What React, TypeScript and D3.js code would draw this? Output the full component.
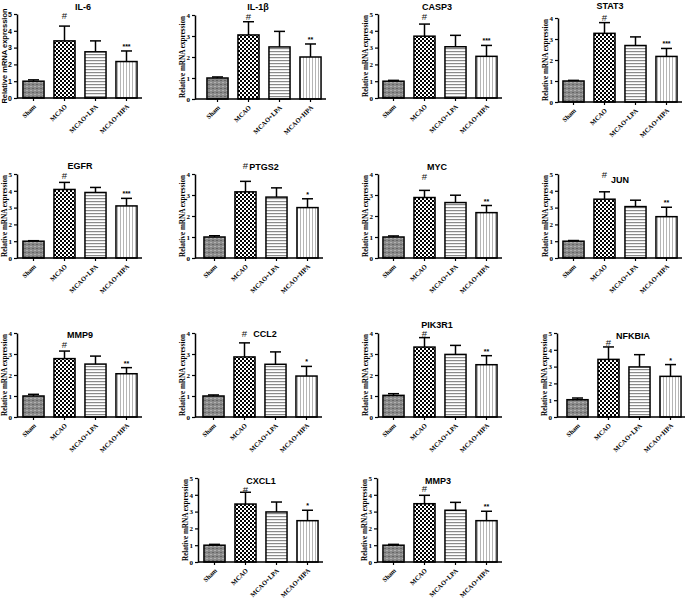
import React, { useEffect, useRef } from "react";
import * as d3 from "d3";

const categories = ["Sham", "MCAO", "MCAO+LPA", "MCAO+HPA"];
const genes = ["IL-6", "IL-1β", "CASP3", "STAT3", "EGFR", "PTGS2", "MYC", "JUN", "MMP9", "CCL2", "PIK3R1", "NFKBIA", "CXCL1", "MMP3"];
const means = [
  [1.0, 3.4, 2.75, 2.17],
  [1.0, 3.05, 2.48, 2.0],
  [1.0, 3.68, 3.05, 2.48],
  [1.0, 3.27, 2.69, 2.17],
  [1.0, 4.08, 3.9, 3.1],
  [1.0, 3.15, 2.9, 2.4],
  [1.0, 2.88, 2.64, 2.16],
  [1.0, 3.5, 3.06, 2.46],
  [1.0, 2.78, 2.52, 2.06],
  [1.0, 2.86, 2.51, 1.95],
  [1.03, 3.33, 2.98, 2.49],
  [1.03, 3.43, 2.98, 2.42],
  [1.0, 3.45, 2.98, 2.46],
  [1.0, 3.47, 3.08, 2.46],
];
const errors = [
  [0.08, 0.88, 0.65, 0.63],
  [0.05, 0.63, 0.74, 0.62],
  [0.05, 0.72, 0.68, 0.65],
  [0.03, 0.51, 0.41, 0.38],
  [0.03, 0.42, 0.3, 0.45],
  [0.06, 0.5, 0.44, 0.42],
  [0.05, 0.34, 0.35, 0.34],
  [0.04, 0.44, 0.38, 0.56],
  [0.08, 0.36, 0.38, 0.29],
  [0.05, 0.67, 0.59, 0.46],
  [0.08, 0.45, 0.43, 0.43],
  [0.1, 0.74, 0.73, 0.7],
  [0.05, 0.7, 0.59, 0.62],
  [0.05, 0.5, 0.47, 0.56],
];
const yMax = [5, 4, 5, 4, 5, 4, 4, 5, 4, 4, 4, 5, 5, 5];
const hpaMarks = ["***", "**", "***", "***", "***", "*", "**", "**", "**", "*", "**", "*", "*", "**"];
const mcaoMark = "#";
const yLabel = "Relative mRNA expression";

// layout (pixel positions per panel)
const layout = [
  { ax: 17, bx: 23, y0: 98, tx: 83, ty: 10, hg: 11, sans: true },
  { ax: 195, bx: 207, y0: 99, tx: 258, ty: 10, hg: 6 },
  { ax: 378, bx: 383, y0: 98, tx: 437, ty: 10, hg: 8 },
  { ax: 558, bx: 563, y0: 102, tx: 610, ty: 9, hg: 6 },
  { ax: 17, bx: 23, y0: 258, tx: 80, ty: 169, hg: 7 },
  { ax: 195, bx: 204, y0: 258, tx: 264, ty: 170, hg: 16 },
  { ax: 378, bx: 383, y0: 258, tx: 437, ty: 170, hg: 14 },
  { ax: 558, bx: 563, y0: 258, tx: 620, ty: 183, hg: 18 },
  { ax: 17, bx: 23, y0: 417, tx: 80, ty: 338, hg: 7 },
  { ax: 195, bx: 203, y0: 417, tx: 265, ty: 337, hg: 10 },
  { ax: 378, bx: 383, y0: 417, tx: 437, ty: 328, hg: 5 },
  { ax: 557, bx: 567, y0: 417, tx: 633, ty: 339, hg: 5 },
  { ax: 198, bx: 204, y0: 562, tx: 261, ty: 484, hg: 3 },
  { ax: 377, bx: 383, y0: 562, tx: 438, ty: 484, hg: 7 },
];

const fills = ["url(#pSham)", "url(#pMcao)", "url(#pLpa)", "url(#pHpa)"];
const SANS = "Arial, 'Liberation Sans', sans-serif";
const SERIF = "'Times New Roman', 'Liberation Serif', serif";

export default function App() {
  const ref = useRef<SVGSVGElement | null>(null);
  useEffect(() => {
    const svg = d3.select(ref.current);
    svg.selectAll("*").remove();
    const defs = svg.append("defs");
    const p1 = defs.append("pattern").attr("id", "pSham").attr("patternUnits", "userSpaceOnUse").attr("width", 4).attr("height", 4);
    p1.append("rect").attr("width", 4).attr("height", 4).attr("fill", "#8a8a8a");
    p1.append("rect").attr("width", 2).attr("height", 1).attr("fill", "#666");
    p1.append("rect").attr("x", 2).attr("y", 2).attr("width", 2).attr("height", 1).attr("fill", "#b0b0b0");
    const p2 = defs.append("pattern").attr("id", "pMcao").attr("patternUnits", "userSpaceOnUse").attr("width", 4).attr("height", 4);
    p2.append("rect").attr("width", 4).attr("height", 4).attr("fill", "#fff");
    p2.append("rect").attr("width", 2).attr("height", 2).attr("fill", "#000");
    p2.append("rect").attr("x", 2).attr("y", 2).attr("width", 2).attr("height", 2).attr("fill", "#000");
    const p3 = defs.append("pattern").attr("id", "pLpa").attr("patternUnits", "userSpaceOnUse").attr("width", 4).attr("height", 3);
    p3.append("rect").attr("width", 4).attr("height", 3).attr("fill", "#fff");
    p3.append("rect").attr("width", 4).attr("height", 1.2).attr("fill", "#8a8a8a");
    const p4 = defs.append("pattern").attr("id", "pHpa").attr("patternUnits", "userSpaceOnUse").attr("width", 3).attr("height", 4);
    p4.append("rect").attr("width", 3).attr("height", 4).attr("fill", "#fff");
    p4.append("rect").attr("width", 1).attr("height", 4).attr("fill", "#b5b5b5");

    genes.forEach((gene, i) => {
      const L = layout[i];
      const font = L.sans ? SANS : SERIF;
      const g = svg.append("g");
      const y = d3.scaleLinear().domain([0, yMax[i]]).range([L.y0, L.y0 - 84]);
      const x = d3.scaleBand().domain(categories).range([L.bx - 5, L.bx + 119]).paddingInner(0.32).paddingOuter(0.16);

      // bars
      categories.forEach((c, j) => {
        const m = means[i][j];
        const e = errors[i][j];
        const cx = x(c)! + x.bandwidth() / 2;
        g.append("line").attr("x1", cx).attr("x2", cx).attr("y1", y(m)).attr("y2", y(m + e)).attr("stroke", "#000").attr("stroke-width", 1.5);
        g.append("line").attr("x1", cx - 5.5).attr("x2", cx + 5.5).attr("y1", y(m + e)).attr("y2", y(m + e)).attr("stroke", "#000").attr("stroke-width", 1.5);
        g.append("rect").attr("x", x(c)!).attr("y", y(m)).attr("width", x.bandwidth()).attr("height", L.y0 - y(m))
          .attr("fill", fills[j]).attr("stroke", "#000").attr("stroke-width", 1.5);
      });

      // y axis
      const ya = g.append("g").attr("transform", `translate(${L.ax},0)`)
        .call(d3.axisLeft(y).ticks(yMax[i]).tickSize(3).tickSizeOuter(0).tickPadding(2).tickFormat(d3.format("d")));
      ya.select(".domain").attr("stroke-width", 1.5);
      ya.selectAll(".tick line").attr("stroke-width", 1.2);
      ya.selectAll("text").attr("font-family", font).attr("font-weight", "bold").attr("font-size", 7);

      // x axis
      const xa = g.append("g").attr("transform", `translate(0,${L.y0})`);
      xa.append("line").attr("x1", L.ax).attr("x2", L.bx + 119).attr("stroke", "#000").attr("stroke-width", 1.5);
      categories.forEach((c) => {
        const cx = x(c)! + x.bandwidth() / 2;
        xa.append("line").attr("x1", cx).attr("x2", cx).attr("y1", 0).attr("y2", 3).attr("stroke", "#000").attr("stroke-width", 1.2);
        xa.append("text").attr("transform", `translate(${cx + 3},${9}) rotate(-45)`).attr("text-anchor", "end")
          .attr("font-family", SERIF).attr("font-weight", "bold").attr("font-size", 6.6).text(c);
      });

      // y label
      g.append("text").attr("transform", `translate(${L.ax - 13},${L.y0 - 42}) rotate(-90)`).attr("text-anchor", "middle")
        .attr("dy", "0.35em").attr("font-family", font).attr("font-weight", "bold").attr("font-size", L.sans ? 7.5 : 7.2).text(yLabel);

      // title
      g.append("text").attr("x", L.tx).attr("y", L.ty).attr("text-anchor", "middle").attr("font-family", SANS)
        .attr("font-weight", "bold").attr("font-size", 9).text(gene);

      // significance
      const cM = x(categories[1])! + x.bandwidth() / 2;
      const topM = y(means[i][1] + errors[i][1]);
      g.append("text").attr("x", cM).attr("y", topM - L.hg + 4).attr("text-anchor", "middle").attr("font-family", SANS)
        .attr("font-size", 9.5).attr("fill", "#111").text(mcaoMark);
      const cH = x(categories[3])! + x.bandwidth() / 2;
      const topH = y(means[i][3] + errors[i][3]);
      g.append("text").attr("x", cH).attr("y", topH - 2).attr("text-anchor", "middle").attr("font-family", SANS)
        .attr("font-weight", "bold").attr("font-size", 7).text(hpaMarks[i]);
    });
  }, []);
  return <svg ref={ref} width={685} height={601} style={{ position: "absolute", left: 0, top: 0, background: "#fff" }} />;
}
